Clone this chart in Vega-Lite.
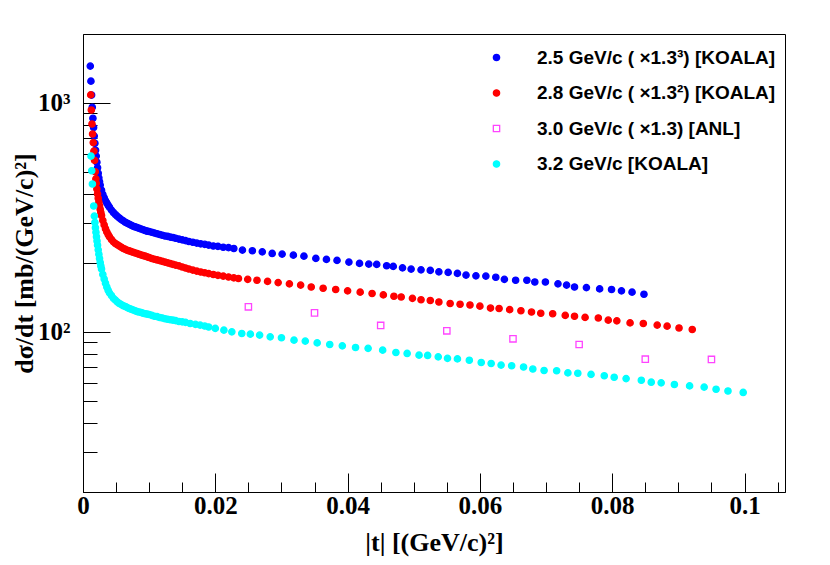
{
  "$schema": "https://vega.github.io/schema/vega-lite/v6.json",
  "width": 702,
  "height": 458,
  "autosize": "none",
  "padding": {"left": 83, "top": 34, "right": 45, "bottom": 73},
  "background": "white",
  "config": {
    "view": {"stroke": "black", "strokeWidth": 1},
    "axis": {"domainColor": "black", "tickColor": "black", "labelColor": "black", "titleColor": "black", "grid": false}
  },
  "data": {
    "values": [
      {"s": "a", "t": 0.0011, "v": 1445}, {"s": "a", "t": 0.0012, "v": 1242}, {"s": "a", "t": 0.0013, "v": 1080},
      {"s": "a", "t": 0.0014, "v": 955}, {"s": "a", "t": 0.0015, "v": 855}, {"s": "a", "t": 0.0016, "v": 780},
      {"s": "a", "t": 0.0017, "v": 715}, {"s": "a", "t": 0.0018, "v": 665}, {"s": "a", "t": 0.0019, "v": 620},
      {"s": "a", "t": 0.0020, "v": 585}, {"s": "a", "t": 0.0021, "v": 550}, {"s": "a", "t": 0.0022, "v": 520},
      {"s": "a", "t": 0.0023, "v": 492}, {"s": "a", "t": 0.0024, "v": 470}, {"s": "a", "t": 0.0025, "v": 452},
      {"s": "a", "t": 0.0026, "v": 437}, {"s": "a", "t": 0.0028, "v": 415}, {"s": "a", "t": 0.0030, "v": 398},
      {"s": "a", "t": 0.0032, "v": 385}, {"s": "a", "t": 0.0034, "v": 374}, {"s": "a", "t": 0.0036, "v": 365},
      {"s": "a", "t": 0.0038, "v": 357}, {"s": "a", "t": 0.0040, "v": 350}, {"s": "a", "t": 0.0043, "v": 340},
      {"s": "a", "t": 0.0046, "v": 332}, {"s": "a", "t": 0.0049, "v": 325}, {"s": "a", "t": 0.0052, "v": 319},
      {"s": "a", "t": 0.0055, "v": 314}, {"s": "a", "t": 0.0058, "v": 309}, {"s": "a", "t": 0.0061, "v": 305},
      {"s": "a", "t": 0.0064, "v": 301}, {"s": "a", "t": 0.0067, "v": 298}, {"s": "a", "t": 0.0070, "v": 295},
      {"s": "a", "t": 0.0073, "v": 292}, {"s": "a", "t": 0.0076, "v": 289}, {"s": "a", "t": 0.0079, "v": 287},
      {"s": "a", "t": 0.0082, "v": 285}, {"s": "a", "t": 0.0085, "v": 283}, {"s": "a", "t": 0.0088, "v": 281},
      {"s": "a", "t": 0.0091, "v": 279}, {"s": "a", "t": 0.0094, "v": 277}, {"s": "a", "t": 0.0097, "v": 275},
      {"s": "a", "t": 0.0100, "v": 274}, {"s": "a", "t": 0.0104, "v": 272}, {"s": "a", "t": 0.0108, "v": 270},
      {"s": "a", "t": 0.0112, "v": 268}, {"s": "a", "t": 0.0116, "v": 266}, {"s": "a", "t": 0.0120, "v": 264},
      {"s": "a", "t": 0.0124, "v": 262}, {"s": "a", "t": 0.0128, "v": 261}, {"s": "a", "t": 0.0132, "v": 259},
      {"s": "a", "t": 0.0136, "v": 258}, {"s": "a", "t": 0.0140, "v": 256}, {"s": "a", "t": 0.0145, "v": 254},
      {"s": "a", "t": 0.0150, "v": 252}, {"s": "a", "t": 0.0155, "v": 250}, {"s": "a", "t": 0.0160, "v": 248},
      {"s": "a", "t": 0.0166, "v": 246}, {"s": "a", "t": 0.0172, "v": 244}, {"s": "a", "t": 0.0178, "v": 242},
      {"s": "a", "t": 0.0184, "v": 241}, {"s": "a", "t": 0.0190, "v": 239}, {"s": "a", "t": 0.0197, "v": 237},
      {"s": "a", "t": 0.0204, "v": 236}, {"s": "a", "t": 0.0212, "v": 234}, {"s": "a", "t": 0.0220, "v": 233},
      {"s": "a", "t": 0.0228, "v": 231}, {"s": "a", "t": 0.0241, "v": 227.4}, {"s": "a", "t": 0.0256, "v": 225.8},
      {"s": "a", "t": 0.0271, "v": 223.5}, {"s": "a", "t": 0.0286, "v": 219.9}, {"s": "a", "t": 0.0301, "v": 218.4},
      {"s": "a", "t": 0.0318, "v": 216.2}, {"s": "a", "t": 0.0334, "v": 214}, {"s": "a", "t": 0.0352, "v": 209.2},
      {"s": "a", "t": 0.0368, "v": 207.1}, {"s": "a", "t": 0.0384, "v": 205}, {"s": "a", "t": 0.0402, "v": 201.6},
      {"s": "a", "t": 0.0418, "v": 198.9}, {"s": "a", "t": 0.0432, "v": 197.6}, {"s": "a", "t": 0.0444, "v": 197},
      {"s": "a", "t": 0.0459, "v": 194.2}, {"s": "a", "t": 0.0469, "v": 193}, {"s": "a", "t": 0.0483, "v": 190.3},
      {"s": "a", "t": 0.0496, "v": 187.9}, {"s": "a", "t": 0.0511, "v": 186.5}, {"s": "a", "t": 0.0525, "v": 185.4},
      {"s": "a", "t": 0.0538, "v": 182.8}, {"s": "a", "t": 0.0552, "v": 181.7}, {"s": "a", "t": 0.0566, "v": 179.9},
      {"s": "a", "t": 0.0579, "v": 176.9}, {"s": "a", "t": 0.0594, "v": 175.6}, {"s": "a", "t": 0.0609, "v": 175.1},
      {"s": "a", "t": 0.0624, "v": 173}, {"s": "a", "t": 0.0637, "v": 169.5}, {"s": "a", "t": 0.0654, "v": 168},
      {"s": "a", "t": 0.0671, "v": 168}, {"s": "a", "t": 0.0683, "v": 165}, {"s": "a", "t": 0.0699, "v": 165},
      {"s": "a", "t": 0.0718, "v": 162}, {"s": "a", "t": 0.0731, "v": 160}, {"s": "a", "t": 0.0743, "v": 157},
      {"s": "a", "t": 0.0761, "v": 156}, {"s": "a", "t": 0.0781, "v": 154}, {"s": "a", "t": 0.0799, "v": 153},
      {"s": "a", "t": 0.0814, "v": 151}, {"s": "a", "t": 0.0830, "v": 149}, {"s": "a", "t": 0.0848, "v": 146},

      {"s": "b", "t": 0.00117, "v": 1082}, {"s": "b", "t": 0.00126, "v": 929}, {"s": "b", "t": 0.00136, "v": 807},
      {"s": "b", "t": 0.00145, "v": 730}, {"s": "b", "t": 0.00155, "v": 670}, {"s": "b", "t": 0.00165, "v": 615},
      {"s": "b", "t": 0.00175, "v": 560}, {"s": "b", "t": 0.00185, "v": 500}, {"s": "b", "t": 0.00195, "v": 465},
      {"s": "b", "t": 0.0020, "v": 445}, {"s": "b", "t": 0.0021, "v": 420}, {"s": "b", "t": 0.0022, "v": 400},
      {"s": "b", "t": 0.0023, "v": 383}, {"s": "b", "t": 0.0024, "v": 368}, {"s": "b", "t": 0.0025, "v": 355},
      {"s": "b", "t": 0.0026, "v": 343}, {"s": "b", "t": 0.0027, "v": 332}, {"s": "b", "t": 0.0028, "v": 322},
      {"s": "b", "t": 0.0030, "v": 306}, {"s": "b", "t": 0.0032, "v": 293}, {"s": "b", "t": 0.0034, "v": 282},
      {"s": "b", "t": 0.0036, "v": 273}, {"s": "b", "t": 0.0038, "v": 266}, {"s": "b", "t": 0.0040, "v": 260},
      {"s": "b", "t": 0.0043, "v": 253}, {"s": "b", "t": 0.0046, "v": 247}, {"s": "b", "t": 0.0049, "v": 243},
      {"s": "b", "t": 0.0052, "v": 240}, {"s": "b", "t": 0.0055, "v": 237}, {"s": "b", "t": 0.0058, "v": 234},
      {"s": "b", "t": 0.0061, "v": 231}, {"s": "b", "t": 0.0064, "v": 229}, {"s": "b", "t": 0.0067, "v": 227},
      {"s": "b", "t": 0.0070, "v": 225.5}, {"s": "b", "t": 0.0073, "v": 224}, {"s": "b", "t": 0.0076, "v": 222.5},
      {"s": "b", "t": 0.0079, "v": 221}, {"s": "b", "t": 0.0082, "v": 219.5}, {"s": "b", "t": 0.0085, "v": 218},
      {"s": "b", "t": 0.0088, "v": 216.5}, {"s": "b", "t": 0.0091, "v": 215}, {"s": "b", "t": 0.0094, "v": 214},
      {"s": "b", "t": 0.0097, "v": 212.5}, {"s": "b", "t": 0.0100, "v": 211}, {"s": "b", "t": 0.0104, "v": 209},
      {"s": "b", "t": 0.0108, "v": 207.5}, {"s": "b", "t": 0.0112, "v": 206}, {"s": "b", "t": 0.0116, "v": 204.5},
      {"s": "b", "t": 0.0120, "v": 203}, {"s": "b", "t": 0.0124, "v": 201.5}, {"s": "b", "t": 0.0128, "v": 200},
      {"s": "b", "t": 0.0132, "v": 198.5}, {"s": "b", "t": 0.0136, "v": 197}, {"s": "b", "t": 0.0140, "v": 195.5},
      {"s": "b", "t": 0.0145, "v": 194}, {"s": "b", "t": 0.0150, "v": 192}, {"s": "b", "t": 0.0155, "v": 190},
      {"s": "b", "t": 0.0160, "v": 188}, {"s": "b", "t": 0.0166, "v": 186}, {"s": "b", "t": 0.0172, "v": 184},
      {"s": "b", "t": 0.0178, "v": 182.5}, {"s": "b", "t": 0.0184, "v": 181}, {"s": "b", "t": 0.0190, "v": 179.5},
      {"s": "b", "t": 0.0197, "v": 178}, {"s": "b", "t": 0.0204, "v": 176.5}, {"s": "b", "t": 0.0212, "v": 175},
      {"s": "b", "t": 0.0220, "v": 173.5}, {"s": "b", "t": 0.0228, "v": 172}, {"s": "b", "t": 0.0235, "v": 171},
      {"s": "b", "t": 0.0249, "v": 169.5}, {"s": "b", "t": 0.0263, "v": 168}, {"s": "b", "t": 0.0279, "v": 166},
      {"s": "b", "t": 0.0295, "v": 164}, {"s": "b", "t": 0.0312, "v": 162}, {"s": "b", "t": 0.0329, "v": 160},
      {"s": "b", "t": 0.0345, "v": 157}, {"s": "b", "t": 0.0363, "v": 155}, {"s": "b", "t": 0.0382, "v": 153},
      {"s": "b", "t": 0.0400, "v": 151}, {"s": "b", "t": 0.0419, "v": 149}, {"s": "b", "t": 0.0437, "v": 147},
      {"s": "b", "t": 0.0454, "v": 145}, {"s": "b", "t": 0.0470, "v": 143}, {"s": "b", "t": 0.0481, "v": 142},
      {"s": "b", "t": 0.0498, "v": 140}, {"s": "b", "t": 0.0511, "v": 138}, {"s": "b", "t": 0.0525, "v": 137},
      {"s": "b", "t": 0.0538, "v": 135}, {"s": "b", "t": 0.0555, "v": 133}, {"s": "b", "t": 0.0570, "v": 132},
      {"s": "b", "t": 0.0585, "v": 131}, {"s": "b", "t": 0.0600, "v": 129.5}, {"s": "b", "t": 0.0616, "v": 127},
      {"s": "b", "t": 0.0629, "v": 126.5}, {"s": "b", "t": 0.0645, "v": 125}, {"s": "b", "t": 0.0662, "v": 123.6},
      {"s": "b", "t": 0.0678, "v": 122}, {"s": "b", "t": 0.0692, "v": 120.5}, {"s": "b", "t": 0.0710, "v": 120},
      {"s": "b", "t": 0.0729, "v": 118}, {"s": "b", "t": 0.0743, "v": 117}, {"s": "b", "t": 0.0759, "v": 115.6},
      {"s": "b", "t": 0.0779, "v": 115}, {"s": "b", "t": 0.0794, "v": 112.5}, {"s": "b", "t": 0.0807, "v": 111.7},
      {"s": "b", "t": 0.0827, "v": 109.4}, {"s": "b", "t": 0.0847, "v": 108.8}, {"s": "b", "t": 0.0868, "v": 107},
      {"s": "b", "t": 0.0883, "v": 105.9}, {"s": "b", "t": 0.0901, "v": 104}, {"s": "b", "t": 0.0921, "v": 102.4},

      {"s": "c", "t": 0.025, "v": 128.6}, {"s": "c", "t": 0.035, "v": 121}, {"s": "c", "t": 0.045, "v": 106.7},
      {"s": "c", "t": 0.055, "v": 101}, {"s": "c", "t": 0.065, "v": 93.2}, {"s": "c", "t": 0.075, "v": 88.1},
      {"s": "c", "t": 0.085, "v": 76}, {"s": "c", "t": 0.095, "v": 75.8},

      {"s": "d", "t": 0.00121, "v": 585}, {"s": "d", "t": 0.00132, "v": 505}, {"s": "d", "t": 0.00142, "v": 442},
      {"s": "d", "t": 0.00162, "v": 354}, {"s": "d", "t": 0.00171, "v": 320}, {"s": "d", "t": 0.00180, "v": 300},
      {"s": "d", "t": 0.00188, "v": 285}, {"s": "d", "t": 0.00196, "v": 272}, {"s": "d", "t": 0.00204, "v": 260},
      {"s": "d", "t": 0.00212, "v": 249}, {"s": "d", "t": 0.0022, "v": 239}, {"s": "d", "t": 0.0023, "v": 228},
      {"s": "d", "t": 0.0024, "v": 218}, {"s": "d", "t": 0.0025, "v": 209}, {"s": "d", "t": 0.0026, "v": 201},
      {"s": "d", "t": 0.0027, "v": 194}, {"s": "d", "t": 0.0028, "v": 188}, {"s": "d", "t": 0.0030, "v": 178},
      {"s": "d", "t": 0.0032, "v": 170}, {"s": "d", "t": 0.0034, "v": 163}, {"s": "d", "t": 0.0036, "v": 157},
      {"s": "d", "t": 0.0038, "v": 152}, {"s": "d", "t": 0.0040, "v": 148}, {"s": "d", "t": 0.0043, "v": 144},
      {"s": "d", "t": 0.0046, "v": 140}, {"s": "d", "t": 0.0049, "v": 137.5}, {"s": "d", "t": 0.0052, "v": 135},
      {"s": "d", "t": 0.0055, "v": 133}, {"s": "d", "t": 0.0058, "v": 131.5}, {"s": "d", "t": 0.0061, "v": 130},
      {"s": "d", "t": 0.0064, "v": 129}, {"s": "d", "t": 0.0067, "v": 127.5}, {"s": "d", "t": 0.0070, "v": 126.5},
      {"s": "d", "t": 0.0073, "v": 125.5}, {"s": "d", "t": 0.0076, "v": 124.5}, {"s": "d", "t": 0.0079, "v": 123.5},
      {"s": "d", "t": 0.0082, "v": 122.5}, {"s": "d", "t": 0.0085, "v": 122}, {"s": "d", "t": 0.0088, "v": 121.5},
      {"s": "d", "t": 0.0091, "v": 120.5}, {"s": "d", "t": 0.0094, "v": 120}, {"s": "d", "t": 0.0097, "v": 119.5},
      {"s": "d", "t": 0.0100, "v": 119}, {"s": "d", "t": 0.0104, "v": 118}, {"s": "d", "t": 0.0108, "v": 117},
      {"s": "d", "t": 0.0112, "v": 116.5}, {"s": "d", "t": 0.0116, "v": 115.5}, {"s": "d", "t": 0.0120, "v": 115},
      {"s": "d", "t": 0.0124, "v": 114}, {"s": "d", "t": 0.0128, "v": 113.5}, {"s": "d", "t": 0.0132, "v": 113},
      {"s": "d", "t": 0.0136, "v": 112.5}, {"s": "d", "t": 0.0140, "v": 112}, {"s": "d", "t": 0.0145, "v": 111},
      {"s": "d", "t": 0.0150, "v": 110.5}, {"s": "d", "t": 0.0155, "v": 110}, {"s": "d", "t": 0.0162, "v": 108.8},
      {"s": "d", "t": 0.0170, "v": 107.8}, {"s": "d", "t": 0.0177, "v": 107}, {"s": "d", "t": 0.0184, "v": 106},
      {"s": "d", "t": 0.0190, "v": 105}, {"s": "d", "t": 0.0200, "v": 103.5}, {"s": "d", "t": 0.0213, "v": 101.7},
      {"s": "d", "t": 0.0225, "v": 100}, {"s": "d", "t": 0.0240, "v": 98.4}, {"s": "d", "t": 0.0253, "v": 97.7},
      {"s": "d", "t": 0.0267, "v": 96.8}, {"s": "d", "t": 0.0283, "v": 95.1}, {"s": "d", "t": 0.0300, "v": 94.2},
      {"s": "d", "t": 0.0319, "v": 92.0}, {"s": "d", "t": 0.0336, "v": 91.1}, {"s": "d", "t": 0.0354, "v": 89.5},
      {"s": "d", "t": 0.0373, "v": 88.1}, {"s": "d", "t": 0.0392, "v": 86.9}, {"s": "d", "t": 0.0412, "v": 85.5},
      {"s": "d", "t": 0.0431, "v": 84.7}, {"s": "d", "t": 0.0453, "v": 83.2}, {"s": "d", "t": 0.0473, "v": 81.3},
      {"s": "d", "t": 0.0490, "v": 80.5}, {"s": "d", "t": 0.0508, "v": 79.1}, {"s": "d", "t": 0.0521, "v": 78.9},
      {"s": "d", "t": 0.0537, "v": 77.8}, {"s": "d", "t": 0.0551, "v": 76.6}, {"s": "d", "t": 0.0566, "v": 76.2},
      {"s": "d", "t": 0.0584, "v": 75.2}, {"s": "d", "t": 0.0602, "v": 73.5}, {"s": "d", "t": 0.0617, "v": 72.8},
      {"s": "d", "t": 0.0632, "v": 71.6}, {"s": "d", "t": 0.0648, "v": 71.1}, {"s": "d", "t": 0.0666, "v": 70.2},
      {"s": "d", "t": 0.0680, "v": 68.8}, {"s": "d", "t": 0.0697, "v": 67.8}, {"s": "d", "t": 0.0716, "v": 67.6},
      {"s": "d", "t": 0.0733, "v": 66.2}, {"s": "d", "t": 0.0748, "v": 66.0}, {"s": "d", "t": 0.0768, "v": 65.2},
      {"s": "d", "t": 0.0788, "v": 64.3}, {"s": "d", "t": 0.0803, "v": 63.4}, {"s": "d", "t": 0.0821, "v": 62.5},
      {"s": "d", "t": 0.0844, "v": 61.5}, {"s": "d", "t": 0.0859, "v": 60.3}, {"s": "d", "t": 0.0874, "v": 59.9},
      {"s": "d", "t": 0.0894, "v": 58.9}, {"s": "d", "t": 0.0917, "v": 58.1}, {"s": "d", "t": 0.0939, "v": 57.4},
      {"s": "d", "t": 0.0957, "v": 56.2}, {"s": "d", "t": 0.0975, "v": 55.2}, {"s": "d", "t": 0.0998, "v": 54.4}
    ]
  },
  "mark": {"type": "point", "strokeWidth": 1.3, "opacity": 1},
  "encoding": {
    "x": {
      "field": "t",
      "type": "quantitative",
      "scale": {"domain": [0, 0.10612], "nice": false, "zero": false},
      "axis": {
        "values": [0, 0.005, 0.01, 0.015, 0.02, 0.025, 0.03, 0.035, 0.04, 0.045, 0.05, 0.055, 0.06, 0.065, 0.07, 0.075, 0.08, 0.085, 0.09, 0.095, 0.1, 0.105],
        "labelExpr": "abs(datum.value * 50 - round(datum.value * 50)) < 0.01 ? format(datum.value, '~g') : ''",
        "tickSize": {"condition": {"test": "abs(datum.value * 50 - round(datum.value * 50)) < 0.01", "value": -19}, "value": -10},
        "labelPadding": 20,
        "labelFont": "Liberation Serif",
        "labelFontWeight": "bold",
        "labelFontSize": 25,
        "labelOverlap": false,
        "labelFlush": false,
        "title": "|t| [(GeV/c)²]",
        "titleFont": "Liberation Serif",
        "titleFontWeight": "bold",
        "titleFontSize": 26,
        "titlePadding": 2
      }
    },
    "y": {
      "field": "v",
      "type": "quantitative",
      "scale": {"type": "log", "domain": [20, 1995], "nice": false},
      "axis": {
        "values": [20, 30, 40, 50, 60, 70, 80, 90, 100, 200, 300, 400, 500, 600, 700, 800, 900, 1000],
        "labelExpr": "datum.value == 100 ? '10²' : datum.value == 1000 ? '10³' : ''",
        "tickSize": {"condition": {"test": "datum.value == 100 || datum.value == 1000", "value": -27}, "value": -14},
        "labelPadding": 40,
        "labelFont": "Liberation Serif",
        "labelFontWeight": "bold",
        "labelFontSize": 25,
        "labelBaseline": "middle",
        "labelOverlap": false,
        "labelFlush": false,
        "title": "dσ/dt [mb/(GeV/c)²]",
        "titleFont": "Liberation Serif",
        "titleFontWeight": "bold",
        "titleFontSize": 26,
        "titlePadding": 0
      }
    },
    "shape": {
      "field": "s",
      "type": "nominal",
      "scale": {"domain": ["a", "b", "c", "d"], "range": ["circle", "circle", "square", "circle"]}
    },
    "fill": {
      "field": "s",
      "type": "nominal",
      "scale": {"domain": ["a", "b", "c", "d"], "range": ["#0000ff", "#ff0000", "transparent", "#00ffff"]},
      "legend": {
        "orient": "none",
        "legendX": 404,
        "legendY": 14,
        "title": null,
        "labelExpr": "datum.label == 'a' ? '2.5 GeV/c ( ×1.3³) [KOALA]' : datum.label == 'b' ? '2.8 GeV/c ( ×1.3²) [KOALA]' : datum.label == 'c' ? '3.0 GeV/c ( ×1.3) [ANL]' : '3.2 GeV/c [KOALA]'",
        "labelFont": "Liberation Sans",
        "labelFontWeight": "bold",
        "labelFontSize": 19,
        "labelColor": "black",
        "labelLimit": 0,
        "labelOffset": 31,
        "rowPadding": 15.5,
        "symbolStrokeWidth": 1.3
      }
    },
    "stroke": {
      "field": "s",
      "type": "nominal",
      "scale": {"domain": ["a", "b", "c", "d"], "range": ["#0000ff", "#ff0000", "#ff44ff", "#00ffff"]}
    },
    "size": {
      "field": "s",
      "type": "nominal",
      "scale": {"domain": ["a", "b", "c", "d"], "range": [40, 40, 46, 40]}
    }
  }
}
